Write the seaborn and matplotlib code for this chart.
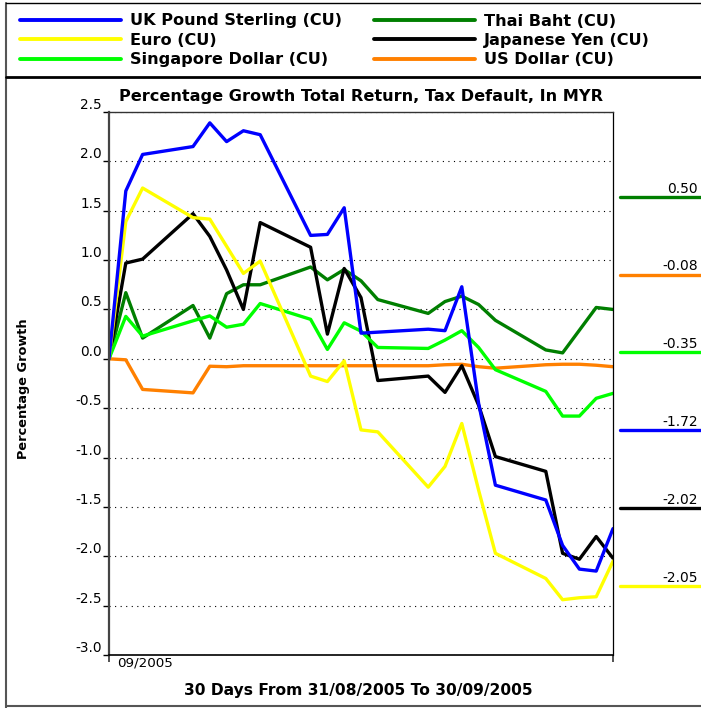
import pandas as pd
import seaborn as sns
import matplotlib.pyplot as plt
from matplotlib.lines import Line2D

# business days counted from 31/08/2005
days = [0, 1, 2, 5, 6, 7, 8, 9, 12, 13, 14, 15, 16, 19, 20, 21, 22, 23, 26, 27, 28, 29, 30]

uk_pound = [0.00, 1.70, 2.07, 2.15, 2.39, 2.20, 2.31, 2.27, 1.25, 1.26, 1.53, 0.26, 0.27,
            0.30, 0.285, 0.73, -0.45, -1.28, -1.43, -1.89, -2.13, -2.15, -1.72]
euro = [0.00, 1.39, 1.73, 1.43, 1.415, 1.14, 0.865, 0.99, -0.175, -0.23, -0.02, -0.72, -0.74,
        -1.30, -1.09, -0.655, -1.33, -1.97, -2.225, -2.44, -2.42, -2.41, -2.05]
sgd = [0.00, 0.43, 0.23, 0.385, 0.435, 0.32, 0.35, 0.56, 0.40, 0.095, 0.365, 0.28, 0.115,
       0.105, 0.19, 0.285, 0.115, -0.11, -0.33, -0.58, -0.58, -0.40, -0.35]
thb = [0.00, 0.67, 0.21, 0.54, 0.21, 0.66, 0.75, 0.75, 0.93, 0.80, 0.905, 0.79, 0.60,
       0.46, 0.58, 0.635, 0.55, 0.39, 0.09, 0.06, 0.29, 0.52, 0.50]
jpy = [0.00, 0.97, 1.01, 1.47, 1.24, 0.90, 0.50, 1.38, 1.13, 0.25, 0.915, 0.62, -0.22,
       -0.175, -0.34, -0.07, -0.47, -0.99, -1.14, -1.97, -2.03, -1.80, -2.02]
usd = [0.00, -0.01, -0.31, -0.345, -0.075, -0.08, -0.07, -0.07, -0.07, -0.07, -0.07, -0.07, -0.07,
       -0.07, -0.06, -0.055, -0.08, -0.095, -0.06, -0.055, -0.055, -0.065, -0.08]

names = ["UK Pound Sterling (CU)", "Euro (CU)", "Singapore Dollar (CU)",
         "Thai Baht (CU)", "Japanese Yen (CU)", "US Dollar (CU)"]
colors = ["#0000FF", "#FFFF00", "#00FF00", "#007F00", "#000000", "#FF8000"]
series = [uk_pound, euro, sgd, thb, jpy, usd]

df = pd.DataFrame({
    "day": days * len(series),
    "growth": sum(series, []),
    "currency": [n for n in names for _ in days],
})

W, H = 701, 708
sns.set_theme(style="white")
plt.rcParams["font.family"] = ["DejaVu Sans"]
plt.rcParams["text.color"] = "black"
plt.rcParams["axes.labelcolor"] = "black"
plt.rcParams["xtick.color"] = "black"
plt.rcParams["ytick.color"] = "black"

fig = plt.figure(figsize=(W / 100, H / 100), dpi=100)
ax = fig.add_axes([109 / W, 1 - 655 / H, 504 / W, 543 / H])

draw_order = [names[i] for i in (5, 3, 4, 2, 1, 0)]
sns.lineplot(data=df, x="day", y="growth", hue="currency", hue_order=draw_order,
             palette=dict(zip(names, colors)), linewidth=2.4, errorbar=None,
             legend=False, ax=ax)

ax.set_xlim(0, 30)
ax.set_ylim(-3.0, 2.5)
yt = [-3.0 + 0.5 * i for i in range(12)]
ax.set_yticks(yt)
ax.set_yticklabels([f"{v:.1f}" for v in yt], fontsize=9.8)
for lbl in ax.get_yticklabels():
    lbl.set_verticalalignment("bottom")
ax.tick_params(axis="y", direction="out", length=4, width=1, color="black", pad=1, left=True)
ax.set_xticks([0, 30])
ax.set_xticklabels([])
ax.tick_params(axis="x", direction="out", length=5, width=1.2, color="#333", bottom=True)
ax.grid(axis="y", color="black", lw=0.8, ls=(0, (1, 4)))
ax.set_axisbelow(True)

ax.spines["left"].set_color("#444")
ax.spines["left"].set_linewidth(1.6)
ax.spines["top"].set_color("#333")
ax.spines["top"].set_linewidth(1.0)
ax.spines["right"].set_color("black")
ax.spines["right"].set_linewidth(0.9)
ax.spines["bottom"].set_color("black")
ax.spines["bottom"].set_linewidth(1.2)

ax.set_title("Percentage Growth Total Return, Tax Default, In MYR",
             fontsize=11.6, fontweight="bold", pad=8)
ax.set_xlabel("30 Days From 31/08/2005 To 30/09/2005", fontsize=11.2, fontweight="bold")
ax.xaxis.set_label_coords(0.494, -0.0645)
ax.xaxis.label.set_va("center")
ax.set_ylabel("Percentage Growth", fontsize=9.3, fontweight="bold")
ax.yaxis.set_label_coords(-0.169, 0.49)
ax.yaxis.label.set_va("center")
ax.annotate("09/2005", xy=(0, 0), xycoords="axes fraction", xytext=(5.8, -1),
            textcoords="offset points", ha="left", va="top", fontsize=9.7)

# legend block on top
handles = [Line2D([], [], color=c, lw=2.8) for c in colors]
fig.legend(handles, names, ncol=2, loc="upper left", bbox_to_anchor=(20 / W, 1 - 13.5 / H),
           frameon=False, prop={"weight": "bold", "size": 11.6}, handlelength=6.25,
           handletextpad=0.56, columnspacing=2.0, labelspacing=0.27,
           borderpad=0, borderaxespad=0)

# end values panel on the right
end_vals = sorted(zip([s[-1] for s in series], colors), reverse=True)
for i, (v, c) in enumerate(end_vals):
    y = 1 - (196.7 + i * 77.8) / H
    fig.add_artist(Line2D([620 / W, 1.0], [y, y], color=c, lw=2.4))
    fig.text(698 / W, y + 4 / H, f"{v:.2f}", ha="right", va="baseline", fontsize=10)

# frame lines
fig.add_artist(Line2D([5.5 / W, 5.5 / W], [0, 1 - 3 / H], color="#555", lw=1.5))
fig.add_artist(Line2D([5.5 / W, 1], [1 - 706 / H, 1 - 706 / H], color="#555", lw=1.5))
fig.add_artist(Line2D([5.5 / W, 1], [1 - 3 / H, 1 - 3 / H], color="black", lw=1.0))
fig.add_artist(Line2D([5.5 / W, 1], [1 - 77 / H, 1 - 77 / H], color="black", lw=2.0))

fig.savefig("out.png", dpi=100)
